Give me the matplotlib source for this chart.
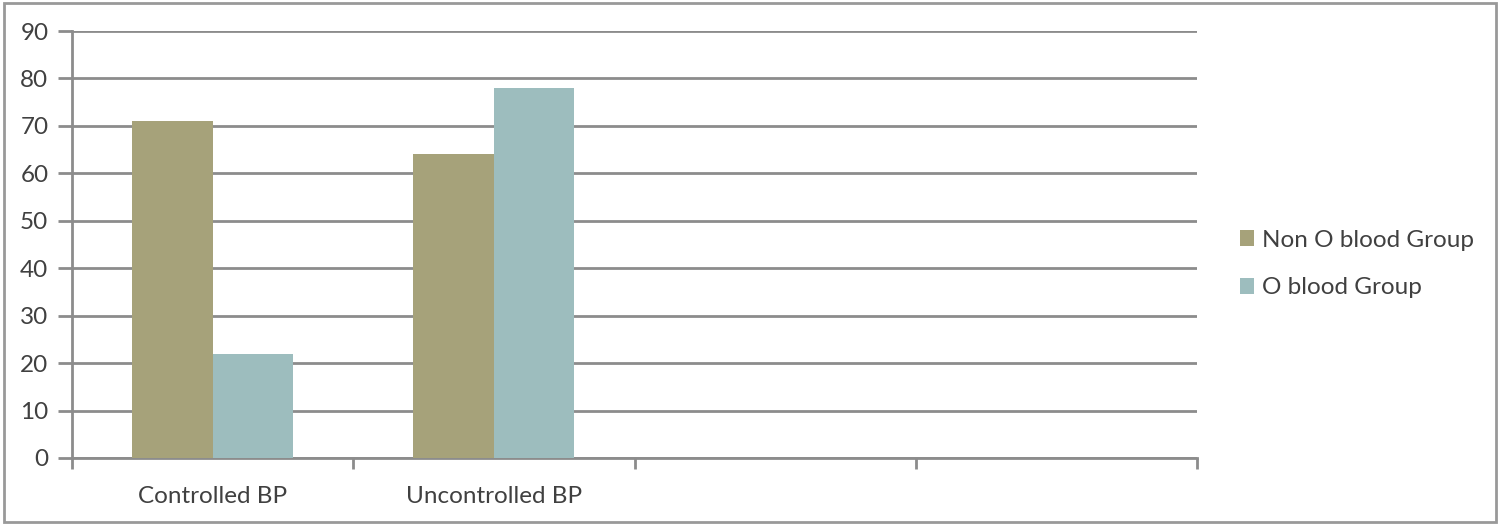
import matplotlib
matplotlib.use("Agg")
import matplotlib.pyplot as plt
from matplotlib.patches import Rectangle
import numpy as np

categories = ["Controlled BP", "Uncontrolled BP", "", ""]
non_o = [71, 64, None, None]
o_grp = [22, 78, None, None]
series_names = ["Non O blood Group", "O blood Group"]
yticks = list(range(0, 91, 10))

plt.rcParams['font.family'] = ['Lato', 'DejaVu Sans']

fig = plt.figure(figsize=(15, 5.25), dpi=100)
ax = fig.add_axes([72/1500, 67/525, (1197-72)/1500, (458-31)/525])

grid_c = "#8c8c8c"
text_c = "#404040"
c1 = "#a6a27a"
c2 = "#9dbdbe"
w = 0.286
x = np.arange(len(categories))
vals1 = [v if v is not None else 0 for v in non_o]
vals2 = [v if v is not None else 0 for v in o_grp]
ax.bar(x - w/2, vals1, width=w, color=c1, label=series_names[0], zorder=3)
ax.bar(x + w/2, vals2, width=w, color=c2, label=series_names[1], zorder=3)

ax.set_xlim(-0.5, len(categories) - 0.5)
ax.set_ylim(0, 90)
ax.set_yticks(yticks)
ax.yaxis.grid(True, color=grid_c, linewidth=2, zorder=0)
ax.set_axisbelow(True)
ax.set_xticks(x)
ax.set_xticklabels(categories)
ax.set_xticks(np.arange(-0.5, len(categories)), minor=True)
ax.tick_params(axis='x', which='major', length=0, pad=20, labelsize=17.5, labelcolor=text_c)
ax.tick_params(axis='x', which='minor', length=8, width=2, color=grid_c)
ax.tick_params(axis='y', length=10, width=2, color=grid_c, labelsize=17.5, labelcolor=text_c, pad=7)
for s in ['top', 'right']:
    ax.spines[s].set_visible(False)
for s in ['left', 'bottom']:
    ax.spines[s].set_color(grid_c)
    ax.spines[s].set_linewidth(2)

fig.legend(loc='center left', bbox_to_anchor=(1218/1500, 1 - 264/525), frameon=False,
           fontsize=17.5, handlelength=0.6, handleheight=0.6, handletextpad=0.3,
           labelspacing=1.1, labelcolor=text_c)

fig.patches.append(Rectangle((4/1500, 3/525), 1492/1500, 519/525, transform=fig.transFigure,
                             fill=False, edgecolor="#999999", linewidth=2))
fig.savefig("out.png", dpi=100)
